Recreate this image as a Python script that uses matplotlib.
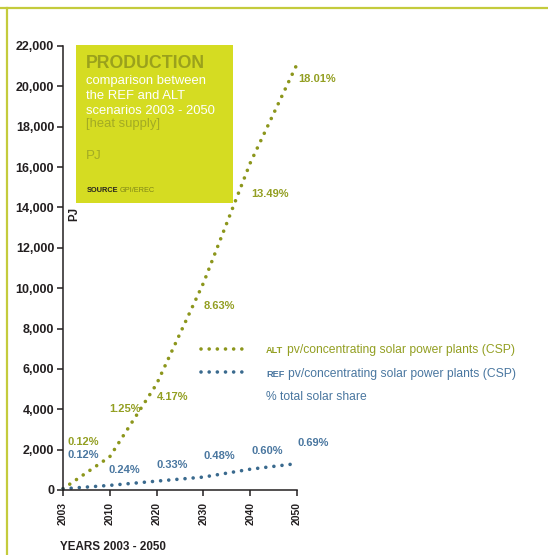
import matplotlib
matplotlib.use("Agg")
import matplotlib.pyplot as plt
from matplotlib.lines import Line2D
from matplotlib.patches import Rectangle

# ---- data ----
years = ['2003', '2010', '2020', '2030', '2040', '2050']
alt_pj = [60, 1650, 5250, 10250, 16200, 21100]
ref_pj = [60, 230, 440, 640, 1030, 1310]
alt_share = ['0.12%', '1.25%', '4.17%', '8.63%', '13.49%', '18.01%']
ref_share = ['0.12%', '0.24%', '0.33%', '0.48%', '0.60%', '0.69%']
y_ticks = list(range(0, 22001, 2000))

W, H = 548, 555
def fx(x): return x / W
def fy(y): return 1 - y / H

OLIVE = '#8c961c'
OLIVE_T = '#939f22'
BLUE = '#3a6a8e'
BLUE_T = '#4a77a0'
DARK = '#231f20'
BOX = '#d5dc22'
FRAME = '#c4cb3c'

SANS = ['Liberation Sans', 'DejaVu Sans']

fig = plt.figure(figsize=(W / 100, H / 100), dpi=100)
fig.patch.set_facecolor('white')

ax = fig.add_axes([fx(63), fy(490), (297 - 63) / W, (490 - 46) / H])
x = list(range(len(years)))
LW = 2.6
dot = (0, (0.01, 2.25))
ax.plot(x, alt_pj, color=OLIVE, lw=LW, linestyle=dot, dash_capstyle='round', clip_on=False)
ax.plot(x, ref_pj, color=BLUE, lw=LW, linestyle=dot, dash_capstyle='round', clip_on=False)

ax.set_xlim(0, 5)
ax.set_ylim(0, 22000)
ax.set_xticks(x)
ax.set_xticklabels(years, rotation=90, fontfamily=SANS, fontweight='bold', fontsize=7.5, color=DARK)
ax.set_yticks(y_ticks)
ax.set_yticklabels([f'{v:,}' for v in y_ticks], fontfamily=SANS, fontweight='bold', fontsize=9, color=DARK)
ax.tick_params(axis='both', direction='out', length=4.3, width=1.1, color=DARK)
ax.tick_params(axis='y', pad=2)
ax.tick_params(axis='x', pad=4.3)
for s in ['top', 'right']:
    ax.spines[s].set_visible(False)
for s in ['left', 'bottom']:
    ax.spines[s].set_color(DARK)
    ax.spines[s].set_linewidth(1.1)
ax.patch.set_alpha(0)

alt_off = [(5, 47), (-1, 48), (0, -13), (0, -23), (1, -31), (1, -14.5)]
ref_off = [(5, 34), (-1, 15), (0, 16), (0, 21), (1, 18.5), (1, 21)]
for i in x:
    ax.annotate(alt_share[i], (i, alt_pj[i]), xytext=alt_off[i], textcoords='offset pixels',
                ha='left', va='center', fontsize=8, fontweight='bold', family=SANS, color=OLIVE_T,
                annotation_clip=False)
    ax.annotate(ref_share[i], (i, ref_pj[i]), xytext=ref_off[i], textcoords='offset pixels',
                ha='left', va='center', fontsize=8, fontweight='bold', family=SANS, color=BLUE_T,
                annotation_clip=False)

# frame lines
fig.add_artist(Line2D([0, 1], [fy(7.5), fy(7.5)], color=FRAME, lw=1.6, transform=fig.transFigure))
fig.add_artist(Line2D([fx(6.6), fx(6.6)], [fy(7.5), 0], color=FRAME, lw=1.6, transform=fig.transFigure))

# title box
fig.add_artist(Rectangle((fx(76), fy(203)), (233 - 76) / W, (203 - 45) / H, transform=fig.transFigure,
                         facecolor=BOX, edgecolor='none', zorder=3))
fig.text(fx(86), fy(68), 'PRODUCTION', family=SANS, fontweight='bold', fontsize=12.8,
         color='#9aa11c', va='baseline', zorder=4)
for txt, yb in [('comparison between', 84), ('the REF and ALT', 99), ('scenarios 2003 - 2050', 113.5)]:
    fig.text(fx(86), fy(yb), txt, family=SANS, fontsize=9.4, color='white', va='baseline', zorder=4)
fig.text(fx(86), fy(127.5), '[heat supply]', family=SANS, fontsize=9.4, color='#a3ab24', va='baseline', zorder=4)
fig.text(fx(86), fy(159.3), 'PJ', family=SANS, fontsize=9.6, color='#a3ab24', va='baseline', zorder=4)
fig.text(fx(87), fy(191.7), 'SOURCE', family=SANS, fontweight='bold', fontsize=5.3, color=DARK,
         va='baseline', zorder=4)
fig.text(fx(119.5), fy(191.7), 'GPI/EREC', family=SANS, fontsize=5.3, color='#7f8618',
         va='baseline', zorder=4)

# axis titles
fig.text(fx(74.5), fy(213.5), 'PJ', rotation=90, family=SANS, fontweight='bold', fontsize=8.3,
         color=DARK, ha='center', va='center')
fig.text(fx(60), fy(547), 'YEARS 2003 - 2050', family=SANS, fontweight='bold', fontsize=8.4,
         color=DARK, ha='left', va='center')

# legend
fig.add_artist(Line2D([fx(200.7), fx(248)], [fy(348.7), fy(348.7)], color=OLIVE, lw=LW, linestyle=dot,
                      dash_capstyle='round', transform=fig.transFigure))
fig.add_artist(Line2D([fx(200.7), fx(248)], [fy(371.5), fy(371.5)], color=BLUE, lw=LW, linestyle=dot,
                      dash_capstyle='round', transform=fig.transFigure))
fig.text(fx(266), fy(352.6), 'ALT', family=SANS, fontweight='bold', fontsize=6.6, color=OLIVE_T, va='baseline')
fig.text(fx(286.7), fy(352.6), 'pv/concentrating solar power plants (CSP)', family=SANS, fontsize=8.7,
         color=OLIVE_T, va='baseline')
fig.text(fx(266), fy(376.6), 'REF', family=SANS, fontweight='bold', fontsize=6.6, color=BLUE_T, va='baseline')
fig.text(fx(288.3), fy(376.6), 'pv/concentrating solar power plants (CSP)', family=SANS, fontsize=8.7,
         color=BLUE_T, va='baseline')
fig.text(fx(266), fy(399.5), '% total solar share', family=SANS, fontsize=8.7, color=BLUE_T, va='baseline')

fig.savefig('out.png', dpi=100)
